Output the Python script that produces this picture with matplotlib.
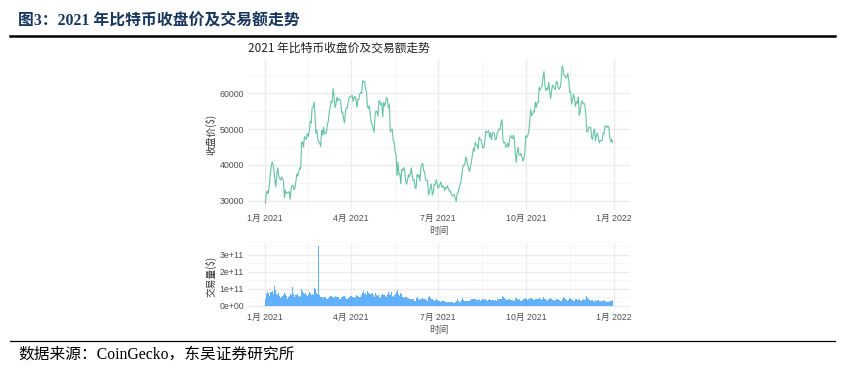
import numpy as np
import pandas as pd
import matplotlib
matplotlib.use("Agg")
import matplotlib.pyplot as plt
import matplotlib.dates as mdates
from matplotlib.lines import Line2D

# daily BTC close (USD), 2021-01-01 .. 2021-12-31
close_jan = [29374, 32127, 32782, 31971, 33992, 36824, 39371, 40797, 40254, 38356, 35566,
             33922, 37316, 39187, 36825, 36178, 35792, 36630, 36069, 35547, 30825, 33006,
             32067, 32289, 32366, 32569, 30432, 33466, 34316, 34269, 33114]
close_feb = [33538, 35510, 37473, 36926, 38144, 39266, 38903, 46197, 46481, 44919, 47910,
             47504, 47105, 48717, 47945, 49199, 52149, 51679, 55888, 56100, 57539, 54207,
             48824, 49705, 47093, 46339, 46188, 45137]
close_mar = [49631, 48378, 50538, 48562, 48927, 48912, 51206, 52246, 54824, 56008, 57805,
             57332, 61243, 59302, 55907, 56804, 58870, 57858, 58346, 58313, 57523, 54529,
             54738, 52774, 51704, 55137, 55974, 55947, 57750, 58918, 58918]
close_apr = [59095, 59384, 57604, 58758, 59057, 58192, 56048, 58323, 58245, 59793, 60204,
             59893, 63503, 62969, 63189, 61342, 60109, 56274, 55703, 56507, 53809, 51731,
             51153, 50110, 49067, 54021, 55034, 54825, 53556, 57751]
close_may = [57829, 56631, 57201, 53334, 57425, 56397, 57357, 58804, 58232, 55860, 56704,
             49150, 49717, 49880, 46761, 46431, 43538, 42910, 37002, 40782, 37305, 37536,
             34771, 38705, 38403, 39294, 38436, 35697, 34616, 35678, 37332]
close_jun = [36685, 37575, 39209, 36894, 35551, 35862, 33560, 33472, 37345, 36703, 37313,
             35551, 39097, 40219, 40406, 38347, 38053, 35787, 35616, 35698, 31676, 32505,
             33723, 34662, 31637, 32186, 34649, 34434, 35867, 35040]
close_jul = [33572, 33897, 34668, 35287, 33746, 34235, 33855, 32877, 33798, 33520, 34240,
             33155, 32702, 32822, 31780, 31421, 31533, 31796, 30817, 29807, 32110, 32313,
             33581, 34292, 35350, 37337, 39406, 39996, 40008, 42235, 41626]
close_aug = [39974, 39201, 38152, 39747, 40869, 42816, 44555, 43798, 46365, 45585, 45593,
             44428, 47793, 47096, 47047, 45937, 44686, 44741, 46723, 49340, 48905, 49321,
             49546, 47706, 48960, 46942, 49058, 48897, 48806, 46991, 47166]
close_sep = [48847, 49327, 50025, 49944, 51753, 52633, 46811, 46091, 46391, 44883, 45201,
             46063, 44963, 47092, 48176, 47784, 47268, 48279, 47261, 43012, 40694, 43575,
             44895, 42839, 42717, 43208, 42236, 41034, 41564, 43790]
close_oct = [48116, 47712, 48199, 49113, 51515, 55362, 53805, 53967, 54969, 54660, 57472,
             56041, 57401, 57322, 61593, 60892, 61554, 62026, 64262, 65992, 62211, 60693,
             61394, 60930, 63040, 60364, 58482, 60622, 62228, 61888, 61318]
close_nov = [61004, 63226, 62970, 61453, 61125, 61527, 63327, 67566, 66971, 64995, 64950,
             64155, 64469, 65466, 63557, 60161, 60368, 56942, 58119, 59697, 58730, 56289,
             57570, 57138, 58960, 53727, 54721, 57274, 57776, 56950]
close_dec = [57184, 56480, 53601, 49152, 49397, 50441, 50588, 50471, 47545, 47140, 49389,
             50053, 46702, 48343, 48864, 47632, 46131, 46834, 46681, 46915, 48897, 48588,
             50838, 50821, 50429, 50810, 50640, 47588, 46444, 47178, 46306]

# daily volume, billions of USD
vol_jan = [41, 68, 79, 75, 61, 81, 84, 86, 66, 70, 118, 95, 72, 66, 75, 57, 46, 55, 60, 62,
           78, 70, 56, 42, 50, 60, 68, 66, 113, 72, 52]
vol_feb = [55, 62, 67, 72, 58, 55, 60, 98, 85, 76, 70, 74, 63, 57, 68, 80, 74, 64, 72, 62,
           58, 105, 98, 78, 70, 350, 62, 55]
vol_mar = [50, 52, 48, 55, 50, 38, 40, 46, 55, 58, 56, 52, 50, 48, 62, 58, 55, 52, 50, 43,
           40, 50, 53, 58, 60, 48, 40, 38, 48, 52, 58]
vol_apr = [56, 55, 50, 47, 50, 56, 62, 60, 55, 52, 50, 62, 78, 88, 70, 76, 65, 90, 78, 72,
           68, 72, 75, 65, 52, 78, 66, 57, 56, 62]
vol_may = [50, 45, 62, 68, 65, 62, 60, 52, 70, 80, 62, 72, 80, 60, 55, 62, 70, 80, 125, 95,
           70, 60, 75, 68, 50, 55, 48, 52, 50, 45, 47]
vol_jun = [42, 38, 40, 42, 38, 30, 32, 48, 52, 45, 40, 35, 38, 42, 45, 40, 38, 42, 36, 32,
           52, 56, 45, 40, 38, 35, 30, 36, 38, 34]
vol_jul = [32, 30, 28, 26, 28, 30, 28, 30, 26, 24, 22, 24, 26, 22, 23, 24, 20, 18, 22, 28,
           38, 30, 26, 22, 24, 34, 47, 36, 30, 32, 28]
vol_aug = [28, 30, 32, 34, 38, 40, 42, 38, 40, 36, 34, 36, 38, 34, 32, 34, 38, 40, 36, 38,
           34, 30, 36, 40, 36, 34, 36, 34, 30, 34, 32]
vol_sep = [38, 40, 42, 38, 34, 40, 60, 55, 44, 40, 36, 34, 40, 38, 36, 34, 36, 32, 30, 45,
           48, 40, 36, 38, 32, 30, 34, 36, 38, 40]
vol_oct = [46, 42, 36, 38, 42, 48, 44, 40, 36, 34, 40, 42, 38, 40, 44, 40, 36, 38, 46, 50,
           42, 40, 34, 32, 38, 40, 44, 38, 36, 34, 32]
vol_nov = [36, 38, 40, 36, 34, 32, 30, 42, 48, 52, 44, 40, 36, 30, 34, 44, 42, 40, 36, 32,
           30, 38, 40, 36, 34, 42, 30, 28, 36, 40]
vol_dec = [36, 34, 40, 59, 46, 38, 34, 32, 36, 34, 30, 26, 34, 32, 36, 34, 30, 28, 26, 30,
           34, 30, 32, 30, 24, 22, 26, 30, 32, 30, 34]

close = (close_jan + close_feb + close_mar + close_apr + close_may + close_jun +
         close_jul + close_aug + close_sep + close_oct + close_nov + close_dec)
volume = (vol_jan + vol_feb + vol_mar + vol_apr + vol_may + vol_jun +
          vol_jul + vol_aug + vol_sep + vol_oct + vol_nov + vol_dec)
dates = pd.date_range("2021-01-01", periods=len(close), freq="D")

tick_dates = ["2021-01-01", "2021-04-01", "2021-07-01", "2021-10-01", "2022-01-01"]
tick_labels = ["1月 2021", "4月 2021", "7月 2021", "10月 2021", "1月 2022"]
price_ticks = [30000, 40000, 50000, 60000]
vol_ticks = [0, 1e11, 2e11, 3e11]
vol_tick_labels = ["0e+00", "1e+11", "2e+11", "3e+11"]

CJK = ["Noto Sans CJK SC", "DejaVu Sans"]
TICKF = ["Liberation Sans", "Noto Sans CJK SC"]
SERIF = ["Liberation Serif", "Noto Sans CJK SC"]
GRID = "#ebebeb"
TXT = "#4d4d4d"


def style_axis(ax, yticks, ylabels, ylabel):
    xt = mdates.date2num(pd.to_datetime(tick_dates))
    ax.set_xticks(xt)
    ax.set_xticklabels(tick_labels, family=TICKF, fontsize=6.3, color=TXT)
    ax.set_xticks((xt[:-1] + xt[1:]) / 2, minor=True)
    ax.set_yticks(yticks)
    ax.set_yticklabels(ylabels, family=TICKF, fontsize=6.3, color=TXT)
    ys = np.array(yticks, dtype=float)
    step = ys[1] - ys[0]
    ax.set_yticks(np.append(ys - step / 2, ys[-1] + step / 2), minor=True)
    ax.tick_params(which="both", length=0, pad=3)
    ax.grid(True, which="major", color=GRID, linewidth=0.9)
    ax.grid(True, which="minor", color="#f4f4f4", linewidth=0.6)
    ax.set_axisbelow(True)
    for s in ax.spines.values():
        s.set_visible(False)
    ax.set_ylabel(ylabel, family=CJK, fontsize=7, color="#333333", labelpad=2)
    ax.set_xlabel("时间", family=CJK, fontsize=7, color="#555555", labelpad=2)
    xn = mdates.date2num(dates)
    pad = (xn[-1] - xn[0]) * 0.05
    ax.set_xlim(xn[0] - pad, xn[-1] + pad)


fig = plt.figure(figsize=(8.54, 3.79), dpi=100)

# top panel: close price
ax1 = fig.add_axes([0.2904, 0.4459, 0.4473, 0.3984])
ax1.plot(dates, close, color="#66c2a5", linewidth=0.8)
style_axis(ax1, price_ticks, [str(v) for v in price_ticks], "收盘价($)")
lo, hi = min(close), max(close)
ax1.set_ylim(lo - (hi - lo) * 0.05, hi + (hi - lo) * 0.05)
ax1.set_title("2021 年比特币收盘价及交易额走势", family=CJK, fontsize=8.5,
              color="#222222", loc="left", pad=5)

# bottom panel: volume
ax2 = fig.add_axes([0.2904, 0.1847, 0.4473, 0.1741])
vol = np.array(volume) * 1e9
ax2.bar(dates, vol, width=1.0, color="#1e90ff", alpha=0.7, linewidth=0)
style_axis(ax2, vol_ticks, vol_tick_labels, "交易量($)")
ax2.set_ylim(-vol.max() * 0.05, vol.max() * 1.05)

# report frame
fig.text(0.021, 0.945, "图3：2021 年比特币收盘价及交易额走势", family=SERIF,
         fontsize=11.4, fontweight="bold", color="#17365d", va="center")
fig.add_artist(Line2D([0.012, 0.978], [0.904, 0.904], color="black", linewidth=1.8))
fig.add_artist(Line2D([0.012, 0.978], [0.099, 0.099], color="black", linewidth=0.9))
fig.text(0.021, 0.064, "数据来源：CoinGecko，东吴证券研究所", family=SERIF,
         fontsize=11.3, color="black", va="center")

fig.savefig("out.png", dpi=100)
